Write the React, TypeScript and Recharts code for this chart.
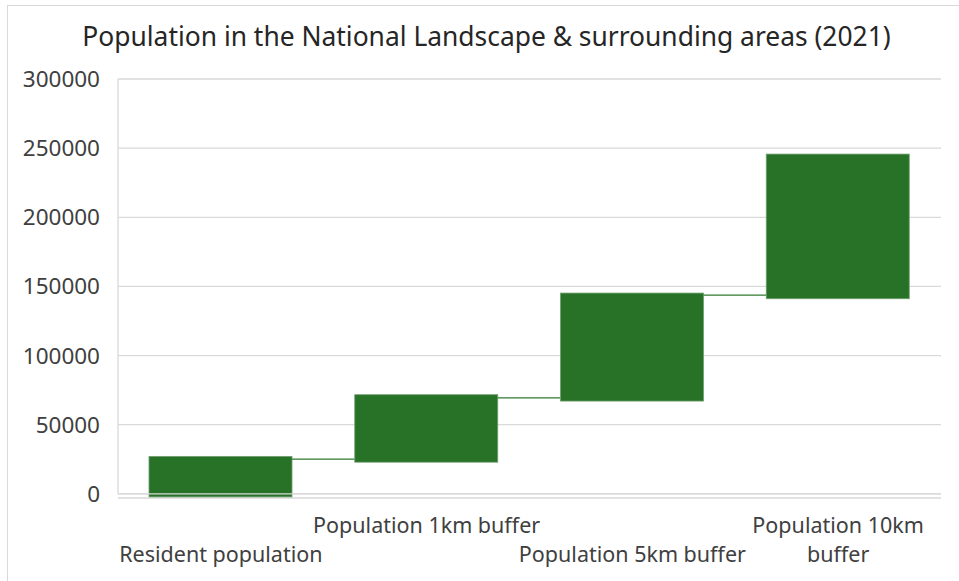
import React from "react";
import { BarChart, Bar, XAxis, YAxis, CartesianGrid, ReferenceLine } from "recharts";

// Categories along the horizontal axis
const categories = [
  "Resident population",
  "Population 1km buffer",
  "Population 5km buffer",
  "Population 10km buffer",
];

// How each category label is broken into lines
const labelLines = [
  ["Resident population"],
  ["Population 1km buffer"],
  ["Population 5km buffer"],
  ["Population 10km", "buffer"],
];

// Floating bar extents (low / high)
const barLow = [-2200, 22900, 67100, 141100];
const barHigh = [27100, 71700, 145200, 245700];

// Level of the connector running from each bar to the next one
const connectorLevel = [25100, 69400, 143700, null];

const yTicks = [0, 50000, 100000, 150000, 200000, 250000, 300000];

const data = categories.map((name, i) => ({
  name,
  range: [barLow[i], barHigh[i]],
  low: barLow[i],
  high: barHigh[i],
  link: connectorLevel[i],
}));

const WIDTH = 959;
const HEIGHT = 581;
const MARGIN = { top: 79, right: 18, bottom: 0, left: 0 };
const X_AXIS_H = 83;
const Y_AXIS_W = 118;
const STEP = (WIDTH - MARGIN.left - MARGIN.right - Y_AXIS_W) / categories.length;

const FONT = "'Noto Sans', sans-serif";
const TEXT = "#404040";
const GRID = "#d9d9d9";
const FILL = "#287228";

const RangeBar = (props: any) => {
  const { x, y, width, height, payload } = props;
  const { low, high, link } = payload;
  const pxPerUnit = height / (high - low);
  const linkY = link == null ? null : y + (high - link) * pxPerUnit;
  return (
    <g>
      <rect x={x} y={y} width={width} height={height} fill={FILL} stroke="#6f9f6f" strokeWidth={0.8} />
      {linkY != null && (
        <line x1={x + width} x2={x + STEP} y1={linkY} y2={linkY} stroke="#2f7a2f" strokeWidth={1.3} />
      )}
    </g>
  );
};

const CategoryTick = (props: any) => {
  const { x, y, index } = props;
  const lines = labelLines[index] || [];
  const upper = index % 2 === 1;
  const base = y + (upper ? 27 : 56);
  return (
    <g>
      {lines.map((t, k) => (
        <text
          key={k}
          x={x}
          y={base + k * 29}
          textAnchor="middle"
          fill={TEXT}
          fontSize={21.5}
          fontFamily={FONT}
        >
          {t}
        </text>
      ))}
    </g>
  );
};

export default function App() {
  return (
    <div
      style={{
        position: "absolute",
        left: 0,
        top: 0,
        width: WIDTH,
        height: HEIGHT,
        overflow: "hidden",
        background: "#fff",
      }}
    >
      <div
        style={{
          position: "absolute",
          left: 7,
          top: 5,
          width: WIDTH,
          height: HEIGHT,
          border: `1px solid ${GRID}`,
        }}
      />
      <div
        style={{
          position: "absolute",
          left: 0,
          top: 21,
          width: 973,
          textAlign: "center",
          fontFamily: FONT,
          fontSize: 26.4,
          color: "#262626",
          lineHeight: "30px",
          whiteSpace: "nowrap",
        }}
      >
        Population in the National Landscape &amp; surrounding areas (2021)
      </div>
      <div style={{ position: "absolute", left: 0, top: 0 }}>
        <BarChart width={WIDTH} height={HEIGHT} data={data} margin={MARGIN} barSize={143}>
          <CartesianGrid horizontal vertical={false} stroke={GRID} strokeWidth={1.3} />
          <XAxis
            dataKey="name"
            axisLine={false}
            tickLine={false}
            tick={<CategoryTick />}
            interval={0}
            height={X_AXIS_H}
          />
          <YAxis
            width={Y_AXIS_W}
            domain={[-3000, 300000]}
            ticks={yTicks}
            axisLine={false}
            tickLine={false}
            tickSize={0}
            tickMargin={18}
            tick={{ fill: TEXT, fontSize: 22.5, fontFamily: FONT }}
          />
          <Bar dataKey="range" isAnimationActive={false} shape={<RangeBar />} />
          <ReferenceLine y={0} stroke={GRID} strokeWidth={1.3} />
          <ReferenceLine
            segment={[
              { x: categories[0], y: 0 },
              { x: categories[0], y: 300000 },
            ]}
            position="start"
            stroke={GRID}
            strokeWidth={1.3}
          />
        </BarChart>
      </div>
    </div>
  );
}
